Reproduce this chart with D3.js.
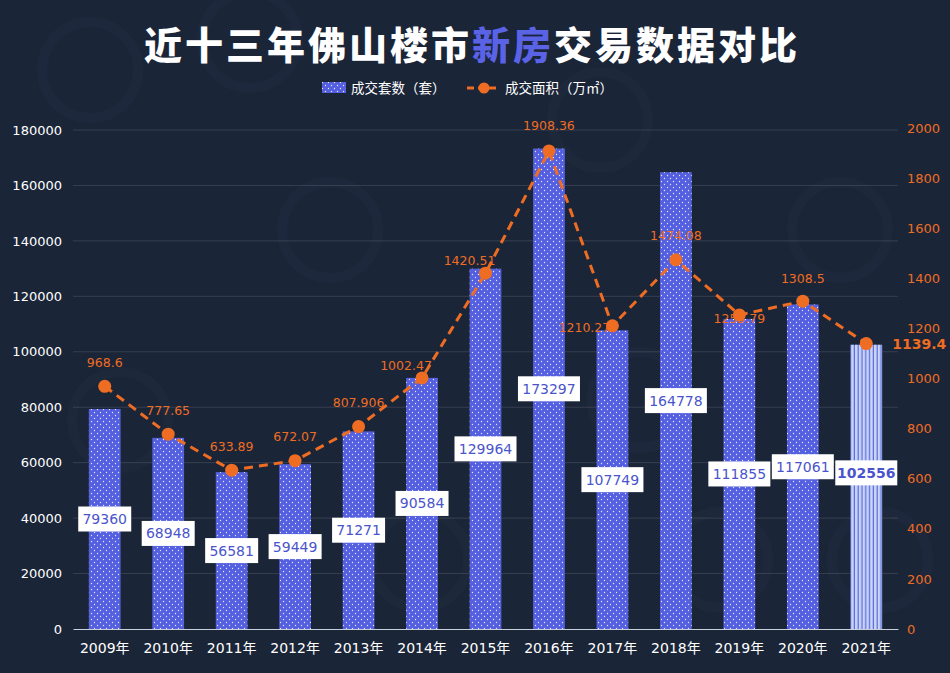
<!DOCTYPE html>
<html><head><meta charset="utf-8">
<script src="https://cdn.jsdelivr.net/npm/d3@7/dist/d3.min.js"></script>
<style>
html,body{margin:0;padding:0;background:#1b2538;}
svg{display:block;}
</style></head>
<body>
<svg id="chart" width="950" height="673"></svg>
<script>
// ---- data ----
const years = ["2009年","2010年","2011年","2012年","2013年","2014年","2015年","2016年","2017年","2018年","2019年","2020年","2021年"];
const units = [79360,68948,56581,59449,71271,90584,129964,173297,107749,164778,111855,117061,102556];
const areas = [968.6,777.65,633.89,672.07,807.906,1002.47,1420.51,1908.36,1210.27,1474.08,1253.79,1308.5,1139.4];
const areaLabels = ["968.6","777.65","633.89","672.07","807.906","1002.47","1420.51","1908.36","1210.27","1474.08","1253.79","1308.5","1139.4"];
const leftTicks = [0,20000,40000,60000,80000,100000,120000,140000,160000,180000];
const rightTicks = [0,200,400,600,800,1000,1200,1400,1600,1800,2000];
const titleParts = [["近十三年佛山楼市","#ffffff"],["新房","#5a63e6"],["交易数据对比","#ffffff"]];
const legendNames = ["成交套数（套）","成交面积（万㎡）"];

// ---- layout/style ----
const W=950,H=673, x0=73, x1=898, yBottom=629, yTopL=130, yTopR=128;
const BLUE="#5460e0", ORANGE="#ee6d23", LABEL_BLUE="#4a54cc";
// label offsets for line labels (style only)
const lblDx=[0,0,0,0,0,-16,-16,0,-28,0,0,0,26];
const lblDy=[-24,-24,-24,-24,-24,-12,-13,-25,2,-24,4,-23,0];
const lblAnchor=["middle","middle","middle","middle","middle","middle","middle","middle","middle","middle","middle","middle","start"];
const labelOnTop=[1,1,1,1,1,1,1,1,0,1,1,1,1];
const barLblShift=[0,0,0,0,0,0,0,0,0,0,0,0,-14];

const svg=d3.select("#chart");
const numFont="'DejaVu Sans', 'Noto Sans CJK SC', sans-serif";

svg.append("rect").attr("width",W).attr("height",H).attr("fill","#1b2538");

// faint watermark circles
const wm=svg.append("g").attr("opacity",0.025);
[[90,70],[330,230],[600,120],[840,230],[120,420],[420,560],[720,560],[640,400],[880,560],[250,40]].forEach(([cx,cy])=>{
  wm.append("circle").attr("cx",cx).attr("cy",cy).attr("r",48).attr("fill","none").attr("stroke","#9fb4e0").attr("stroke-width",10);
});

const defs=svg.append("defs");
const pat=defs.append("pattern").attr("id","dots").attr("patternUnits","userSpaceOnUse").attr("width",6).attr("height",6);
pat.append("rect").attr("width",6).attr("height",6).attr("fill",BLUE);
pat.append("circle").attr("cx",1.5).attr("cy",1.5).attr("r",0.65).attr("fill","#ffffff").attr("opacity",0.85);
pat.append("circle").attr("cx",4.5).attr("cy",4.5).attr("r",0.65).attr("fill","#ffffff").attr("opacity",0.85);
const pat2=defs.append("pattern").attr("id","stripes").attr("patternUnits","userSpaceOnUse").attr("width",3.8).attr("height",10);
pat2.append("rect").attr("width",3.8).attr("height",10).attr("fill","#c9d3f7");
pat2.append("rect").attr("x",2.6).attr("width",1.1).attr("height",10).attr("fill","#5062d8");

// scales
const x=d3.scaleBand().domain(years).range([x0,x1]).paddingInner(0.5).paddingOuter(0.25);
const yL=d3.scaleLinear().domain([0,180000]).range([yBottom,yTopL]);
const yR=d3.scaleLinear().domain([0,2000]).range([yBottom,yTopR]);

// grid
svg.append("g").selectAll("line").data(leftTicks.filter(d=>d>0)).join("line")
  .attr("x1",x0).attr("x2",x1).attr("y1",d=>yL(d)).attr("y2",d=>yL(d))
  .attr("stroke","#ffffff").attr("stroke-opacity",0.12).attr("stroke-width",1);

// left axis
const gL=svg.append("g").attr("transform",`translate(${x0},0)`)
  .call(d3.axisLeft(yL).tickValues(leftTicks).tickSize(0).tickPadding(11).tickFormat(d3.format("d")));
gL.select(".domain").remove();
gL.selectAll("text").attr("fill","#ffffff").attr("font-size",13).attr("font-family",numFont);

// right axis
const gR=svg.append("g").attr("transform",`translate(${x1},0)`)
  .call(d3.axisRight(yR).tickValues(rightTicks).tickSize(0).tickPadding(9).tickFormat(d3.format("d")));
gR.select(".domain").remove();
gR.selectAll("text").attr("fill",ORANGE).attr("font-size",13).attr("font-family",numFont);

// bars
svg.append("g").selectAll("rect").data(units).join("rect")
  .attr("x",(d,i)=>x(years[i])).attr("width",x.bandwidth())
  .attr("y",d=>yL(d)).attr("height",d=>yBottom-yL(d))
  .attr("fill",(d,i)=>i===units.length-1?"url(#stripes)":"url(#dots)");

// baseline / x axis
const gX=svg.append("g").attr("transform",`translate(0,${yBottom})`)
  .call(d3.axisBottom(x).tickSize(0).tickPadding(14));
gX.select(".domain").attr("stroke","#c9cfdb").attr("stroke-width",1.2);
gX.selectAll("text").attr("fill","#ffffff").attr("font-size",14).attr("font-family",numFont);

// bar value labels
const bl=svg.append("g").selectAll("g").data(units).join("g")
  .attr("transform",(d,i)=>`translate(${x(years[i])+x.bandwidth()/2},${(yL(d)+yBottom)/2+barLblShift[i]})`);
bl.append("rect").attr("x",d=>-(String(d).length*9+8)/2).attr("y",-12.5)
  .attr("width",d=>String(d).length*9+8).attr("height",25).attr("fill","#ffffff");
bl.append("text").attr("text-anchor","middle").attr("dy","0.36em")
  .attr("fill",LABEL_BLUE).attr("font-size",14).attr("font-family",numFont)
  .attr("font-weight",(d,i)=>i===units.length-1?"bold":"normal")
  .text(d=>d);

// line
const line=d3.line().x((d,i)=>x(years[i])+x.bandwidth()/2).y(d=>yR(d));
svg.append("path").datum(areas).attr("d",line).attr("fill","none")
  .attr("stroke",ORANGE).attr("stroke-width",3).attr("stroke-dasharray","9,6");

function drawLabels(filterTop){
  const idx=areas.map((d,i)=>i).filter(i=>labelOnTop[i]===filterTop);
  svg.append("g").selectAll("text").data(idx).join("text")
    .attr("x",i=>x(years[i])+x.bandwidth()/2+lblDx[i])
    .attr("y",i=>yR(areas[i])+lblDy[i])
    .attr("dy","0.36em")
    .attr("text-anchor",i=>lblAnchor[i])
    .attr("fill",ORANGE).attr("font-family",numFont)
    .attr("font-size",i=>i===areas.length-1?14:12.5)
    .attr("font-weight",i=>i===areas.length-1?"bold":"normal")
    .text(i=>areaLabels[i]);
}
drawLabels(0);
svg.append("g").selectAll("circle").data(areas).join("circle")
  .attr("cx",(d,i)=>x(years[i])+x.bandwidth()/2).attr("cy",d=>yR(d)).attr("r",6.5).attr("fill",ORANGE);
drawLabels(1);

// title
const t=svg.append("text").attr("x",472).attr("y",46).attr("dy","0.35em").attr("text-anchor","middle")
  .attr("font-family","'Noto Sans CJK SC', sans-serif").attr("font-weight",900)
  .attr("font-size",38).attr("letter-spacing",3);
titleParts.forEach(([s,c])=>t.append("tspan").attr("fill",c).text(s));

// legend
const lg=svg.append("g").attr("font-family","'Noto Sans CJK SC', sans-serif").attr("font-size",13.5).attr("fill","#ffffff");
lg.append("rect").attr("x",322).attr("y",82).attr("width",24).attr("height",11).attr("fill","url(#dots)");
lg.append("text").attr("x",351).attr("y",88).attr("dy","0.35em").text(legendNames[0]);
lg.append("line").attr("x1",467).attr("x2",500).attr("y1",88).attr("y2",88)
  .attr("stroke",ORANGE).attr("stroke-width",3).attr("stroke-dasharray","7,4");
lg.append("circle").attr("cx",484).attr("cy",88).attr("r",5.5).attr("fill",ORANGE);
lg.append("text").attr("x",505).attr("y",88).attr("dy","0.35em").text(legendNames[1]);
</script>
</body></html>
